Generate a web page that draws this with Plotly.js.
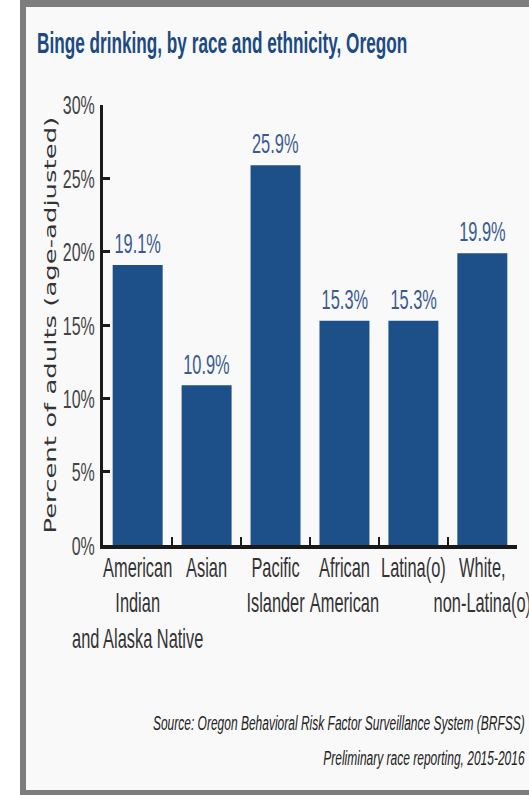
<!DOCTYPE html>
<html>
<head>
<meta charset="utf-8">
<script src="https://cdn.plot.ly/plotly-3.0.1.min.js"></script>
<style>
  html, body { margin: 0; padding: 0; background: #ffffff; overflow: hidden; }
  #frame {
    position: absolute; left: 20px; top: 0; width: 509px; height: 795px;
    box-sizing: border-box; background: #f9f9f9;
    border-left: 6px solid #7d7d7d; border-top: 7px solid #7d7d7d; border-bottom: 5px solid #7d7d7d;
  }
  #chart {
    position: absolute; left: 0; top: 0; width: 661.25px; height: 597.7px;
    transform: scale(0.8, 1.33); transform-origin: 0 0;
  }
</style>
</head>
<body>
<div id="frame"></div>
<div id="chart"></div>
<script>
// ---- data ----
const categories = [
  "American<br>Indian<br>and Alaska Native",
  "Asian",
  "Pacific<br>Islander",
  "African<br>American",
  "Latina(o)",
  "White,<br>non-Latina(o)"
];
const values = [19.1, 10.9, 25.9, 15.3, 15.3, 19.9];
const yTickVals = [0, 5, 10, 15, 20, 25, 30];
const yTickText = ["0%", "5%", "10%", "15%", "20%", "25%", "30%"];
const titleText = "Binge drinking, by race and ethnicity, Oregon";
const yTitleText = "Percent of adults (age-adjusted)";
const sourceLines = [
  "Source: Oregon Behavioral Risk Factor Surveillance System (BRFSS)",
  "Preliminary race reporting, 2015-2016"
];

// ---- styles ----
const SANS = '"Liberation Sans", Arial, sans-serif';
const barColor = "#1d4f88";
const labelColor = "#3b5b8f";
const axisColor = "#1a1a1a";

const trace = {
  type: "bar",
  x: categories,
  y: values,
  marker: { color: barColor },
  hoverinfo: "skip"
};

const valueAnnotations = categories.map((c, i) => ({
  x: c, y: values[i], xref: "x", yref: "y",
  text: values[i].toFixed(1) + "%",
  showarrow: false, yanchor: "bottom", yshift: 3,
  font: { family: SANS, size: 20.5, color: labelColor }
}));

const sourceAnnotations = sourceLines.map((t, i) => ({
  x: 1.024, xref: "paper", xanchor: "right",
  y: [-0.402, -0.482][i], yref: "paper", yanchor: "middle",
  text: "<i>" + t + "</i>", showarrow: false,
  font: { family: SANS, size: 15, color: "#222222" }
}));

const layout = {
  width: 661.25, height: 597.7,
  margin: { l: 128.75, r: 15, t: 78.95, b: 187.9, pad: 0 },
  paper_bgcolor: "rgba(0,0,0,0)",
  plot_bgcolor: "rgba(0,0,0,0)",
  bargap: 0.275,
  showlegend: false,
  title: {
    text: "<b>" + titleText + "</b>",
    x: 37 / 529, xref: "container", xanchor: "left",
    y: 1 - 32.7 / 597.7, yref: "container", yanchor: "middle",
    font: { family: SANS, size: 21.5, color: "#1c4a82" }
  },
  xaxis: {
    type: "category",
    showline: true, linecolor: axisColor, linewidth: 3,
    ticks: "inside", tickson: "boundaries", ticklen: 6, tickwidth: 3, tickcolor: axisColor,
    showgrid: false, zeroline: false,
    tickangle: 0,
    ticklabelstandoff: -4,
    tickfont: { family: SANS, size: 20.5, color: "#333333" }
  },
  yaxis: {
    range: [0, 30],
    tickvals: yTickVals, ticktext: yTickText,
    showline: true, linecolor: axisColor, linewidth: 3.5,
    ticks: "inside", ticklen: 8.75, tickwidth: 2.25, tickcolor: axisColor,
    showgrid: false, zeroline: false,
    ticklabelstandoff: 3,
    tickfont: { family: SANS, size: 20, color: "#444444" },
    title: {
      text: yTitleText, standoff: 4,
      font: { family: '"DejaVu Sans", Verdana, sans-serif', size: 19.5, color: "#333333" }
    }
  },
  annotations: valueAnnotations.concat(sourceAnnotations)
};

Plotly.newPlot("chart", [trace], layout, { displayModeBar: false, staticPlot: true });
</script>
</body>
</html>
